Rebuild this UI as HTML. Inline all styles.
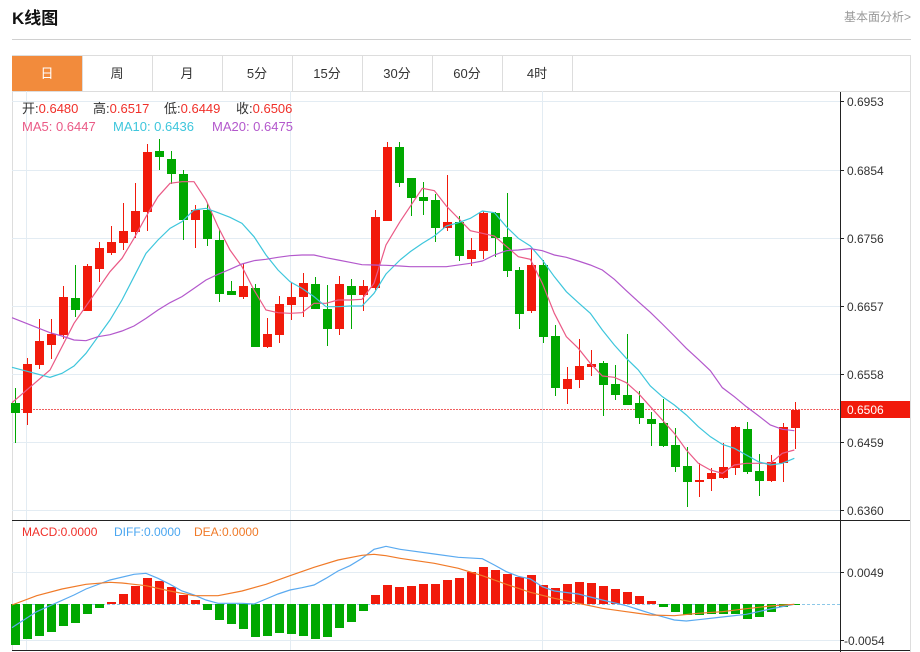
<!DOCTYPE html>
<html><head><meta charset="utf-8"><style>
body{margin:0;background:#fff;width:920px;height:652px;overflow:hidden;font-family:"Liberation Sans","Noto Sans CJK SC",sans-serif}
svg{position:absolute;left:0;top:0}
</style></head><body>
<svg width="920" height="652" xmlns="http://www.w3.org/2000/svg" font-family="Liberation Sans, Noto Sans CJK SC, sans-serif">
<text x="12" y="24" font-size="17" font-weight="bold" fill="#111">K线图</text>
<text x="911" y="21" font-size="12" fill="#999" text-anchor="end">基本面分析&gt;</text>
<line x1="12" y1="39.5" x2="911" y2="39.5" stroke="#d0d0d0"/>
<rect x="12.5" y="55.5" width="898" height="36" fill="none" stroke="#ddd"/>
<rect x="12" y="56" width="70" height="35" fill="#f28b3c"/>
<g stroke="#ddd"><line x1="82.5" y1="56" x2="82.5" y2="91"/><line x1="152.5" y1="56" x2="152.5" y2="91"/><line x1="222.5" y1="56" x2="222.5" y2="91"/><line x1="292.5" y1="56" x2="292.5" y2="91"/><line x1="362.5" y1="56" x2="362.5" y2="91"/><line x1="432.5" y1="56" x2="432.5" y2="91"/><line x1="502.5" y1="56" x2="502.5" y2="91"/><line x1="572.5" y1="56" x2="572.5" y2="91"/></g>
<g font-size="13" text-anchor="middle" fill="#333"><text x="47" y="78" fill="#fff">日</text><text x="117" y="78">周</text><text x="187" y="78">月</text><text x="257" y="78">5分</text><text x="327" y="78">15分</text><text x="397" y="78">30分</text><text x="467" y="78">60分</text><text x="537" y="78">4时</text></g>
<line x1="12.5" y1="91" x2="12.5" y2="650" stroke="#ddd"/>
<line x1="910.5" y1="91" x2="910.5" y2="652" stroke="#ddd"/>
<g stroke="#e3ecf3"><line x1="12" y1="101.5" x2="840" y2="101.5"/><line x1="12" y1="170.5" x2="840" y2="170.5"/><line x1="12" y1="238.5" x2="840" y2="238.5"/><line x1="12" y1="306.5" x2="840" y2="306.5"/><line x1="12" y1="374.5" x2="840" y2="374.5"/><line x1="12" y1="442.5" x2="840" y2="442.5"/><line x1="12" y1="510.5" x2="840" y2="510.5"/>
<line x1="26.5" y1="91" x2="26.5" y2="650"/><line x1="290.5" y1="91" x2="290.5" y2="650"/><line x1="542.5" y1="91" x2="542.5" y2="650"/>
<line x1="12" y1="572.5" x2="840" y2="572.5"/><line x1="12" y1="640.5" x2="840" y2="640.5"/></g>
<line x1="840.5" y1="92" x2="840.5" y2="652" stroke="#222"/>
<line x1="12" y1="520.5" x2="910" y2="520.5" stroke="#222"/>
<line x1="12" y1="650.5" x2="910" y2="650.5" stroke="#222"/>
<g font-size="12" fill="#333"><text x="847" y="106">0.6953</text><text x="847" y="175">0.6854</text><text x="847" y="243">0.6756</text><text x="847" y="311">0.6657</text><text x="847" y="379">0.6558</text><text x="847" y="447">0.6459</text><text x="847" y="515">0.6360</text><text x="847" y="577">0.0049</text><text x="844" y="645">-0.0054</text></g>
<g stroke="#222"><line x1="840" y1="101.5" x2="844" y2="101.5"/><line x1="840" y1="170.5" x2="844" y2="170.5"/><line x1="840" y1="238.5" x2="844" y2="238.5"/><line x1="840" y1="306.5" x2="844" y2="306.5"/><line x1="840" y1="374.5" x2="844" y2="374.5"/><line x1="840" y1="442.5" x2="844" y2="442.5"/><line x1="840" y1="510.5" x2="844" y2="510.5"/><line x1="840" y1="572.5" x2="844" y2="572.5"/><line x1="840" y1="640.5" x2="844" y2="640.5"/></g>
<line x1="12" y1="409.5" x2="840" y2="409.5" stroke="#f06060" stroke-dasharray="2,1"/>
<rect x="841" y="401" width="69" height="17" fill="#f11a0b"/>
<text x="847" y="414" font-size="12" fill="#fff">0.6506</text>
<g font-size="13"><text x="22" y="113" fill="#333">开:<tspan fill="#f0302a">0.6480</tspan></text><text x="93" y="113" fill="#333">高:<tspan fill="#f0302a">0.6517</tspan></text><text x="164" y="113" fill="#333">低:<tspan fill="#f0302a">0.6449</tspan></text><text x="236" y="113" fill="#333">收:<tspan fill="#f0302a">0.6506</tspan></text>
<text x="22" y="131" fill="#ea5a86">MA5: 0.6447</text><text x="113" y="131" fill="#3ec6dc">MA10: 0.6436</text><text x="212" y="131" fill="#b358cc">MA20: 0.6475</text></g>
<g font-size="12"><text x="22" y="536" fill="#f0302a">MACD:0.0000</text><text x="114" y="536" fill="#4aa6f0">DIFF:0.0000</text><text x="194" y="536" fill="#f07a28">DEA:0.0000</text></g>
<g stroke-width="1">
<path stroke="#00a800" d="M15.5 388V443M75.5 265V317M159.5 139V170M171.5 151V184M183.5 170V240M207.5 203V246M219.5 230V302M231.5 281V294M255.5 284V347M315.5 277V309M327.5 285V346M351.5 279V329M399.5 142V187M411.5 178V216M423.5 182V215M435.5 194V242M459.5 216V261M495.5 212V257M507.5 193V277M519.5 267V329M543.5 260V343M555.5 325V396M603.5 361V416M615.5 365V400M627.5 334V405M639.5 391V424M651.5 412V446M663.5 399V447M675.5 428V472M687.5 447V507M747.5 422V474M759.5 454V496"/>
<path stroke="#f11a0b" d="M27.5 358V425M39.5 319V369M51.5 319V359M63.5 286V339M87.5 264V311M99.5 242V282M111.5 226V255M123.5 203V250M135.5 183V238M147.5 144V231M195.5 205V248M243.5 263V299M267.5 318V348M279.5 296V343M291.5 283V320M303.5 273V317M339.5 276V335M363.5 280V311M375.5 210V290M387.5 142V221M447.5 175V231M471.5 238V266M483.5 211V259M531.5 249V313M567.5 367V404M579.5 339V388M591.5 350V376M699.5 463V497M711.5 468V491M723.5 443V479M735.5 426V475M771.5 455V482M783.5 423V482M795.5 402V449"/>
</g>
<g fill="#00a800">
<rect x="11" y="403" width="9" height="10"/><rect x="71" y="298" width="9" height="12"/><rect x="155" y="151" width="9" height="6"/><rect x="167" y="159" width="9" height="15"/><rect x="179" y="174" width="9" height="46"/><rect x="203" y="210" width="9" height="29"/><rect x="215" y="240" width="9" height="54"/><rect x="227" y="291" width="9" height="4"/><rect x="251" y="288" width="9" height="59"/><rect x="311" y="284" width="9" height="25"/><rect x="323" y="309" width="9" height="20"/><rect x="347" y="286" width="9" height="9"/><rect x="395" y="147" width="9" height="36"/><rect x="407" y="178" width="9" height="20"/><rect x="419" y="197" width="9" height="4"/><rect x="431" y="200" width="9" height="28"/><rect x="455" y="222" width="9" height="34"/><rect x="491" y="213" width="9" height="25"/><rect x="503" y="237" width="9" height="34"/><rect x="515" y="270" width="9" height="44"/><rect x="539" y="265" width="9" height="72"/><rect x="551" y="336" width="9" height="52"/><rect x="599" y="363" width="9" height="22"/><rect x="611" y="384" width="9" height="11"/><rect x="623" y="395" width="9" height="10"/><rect x="635" y="403" width="9" height="15"/><rect x="647" y="419" width="9" height="5"/><rect x="659" y="423" width="9" height="23"/><rect x="671" y="445" width="9" height="22"/><rect x="683" y="466" width="9" height="16"/><rect x="743" y="429" width="9" height="43"/><rect x="755" y="471" width="9" height="10"/>
</g>
<g fill="#f11a0b">
<rect x="23" y="364" width="9" height="49"/><rect x="35" y="341" width="9" height="24"/><rect x="47" y="334" width="9" height="11"/><rect x="59" y="297" width="9" height="38"/><rect x="83" y="266" width="9" height="45"/><rect x="95" y="248" width="9" height="21"/><rect x="107" y="242" width="9" height="11"/><rect x="119" y="231" width="9" height="12"/><rect x="131" y="211" width="9" height="21"/><rect x="143" y="152" width="9" height="60"/><rect x="191" y="210" width="9" height="10"/><rect x="239" y="286" width="9" height="11"/><rect x="263" y="334" width="9" height="13"/><rect x="275" y="304" width="9" height="31"/><rect x="287" y="297" width="9" height="8"/><rect x="299" y="283" width="9" height="14"/><rect x="335" y="284" width="9" height="45"/><rect x="359" y="286" width="9" height="9"/><rect x="371" y="217" width="9" height="71"/><rect x="383" y="147" width="9" height="74"/><rect x="443" y="222" width="9" height="6"/><rect x="467" y="250" width="9" height="9"/><rect x="479" y="213" width="9" height="38"/><rect x="527" y="265" width="9" height="46"/><rect x="563" y="379" width="9" height="10"/><rect x="575" y="366" width="9" height="14"/><rect x="587" y="364" width="9" height="3"/><rect x="695" y="480" width="9" height="2"/><rect x="707" y="473" width="9" height="6"/><rect x="719" y="467" width="9" height="11"/><rect x="731" y="427" width="9" height="41"/><rect x="767" y="462" width="9" height="19"/><rect x="779" y="427" width="9" height="36"/><rect x="791" y="410" width="9" height="18"/>
</g>
<g fill="none">
<g transform="translate(0,130) scale(0.33333)">
<polyline vector-effect="non-scaling-stroke" stroke-width="1.2" stroke="#ea5a86" points="36,818 150,720 222,580 330,425 366,385 402,325 438,260 474,200 510,160 546,155 582,155 618,210 654,290 690,360 726,410 762,480 798,540 834,548 870,550 906,548 942,520 978,520 1014,510 1050,510 1086,508 1122,460 1158,345 1200,275"/>
<polyline vector-effect="non-scaling-stroke" stroke-width="1.2" stroke="#3ec6dc" points="36,712 150,742 186,730 222,708 258,670 294,620 330,570 366,510 402,440 438,370 474,330 510,295 546,275 582,240 618,235 654,248 690,262 726,280 762,320 798,375 834,420 870,455 906,475 942,500 978,530 1014,530 1050,528 1086,528 1122,490 1158,432 1200,390"/>
<polyline vector-effect="non-scaling-stroke" stroke-width="1.2" stroke="#b358cc" points="36,563 150,608 186,618 222,630 258,632 294,620 330,614 366,603 402,588 438,565 474,540 510,518 546,500 582,475 618,450 654,433 690,418 726,402 762,392 798,388 834,382 870,377 906,375 942,375 978,383 1014,390 1050,397 1086,404 1122,405 1158,406 1200,408"/>
</g>
<g transform="translate(400,130) scale(0.33333)">
<polyline vector-effect="non-scaling-stroke" stroke-width="1.2" stroke="#ea5a86" points="0,275 67,175 103,182 139,228 211,302 247,310 283,318 355,380 391,388 427,460 463,550 499,620 535,655 571,700 607,738 643,742 679,758 715,790 751,830 787,870 823,910 859,960 895,1000 931,1020 967,1030 1003,1005 1039,1000 1075,1000 1111,1000 1147,970 1183,960"/>
<polyline vector-effect="non-scaling-stroke" stroke-width="1.2" stroke="#3ec6dc" points="0,390 31,365 67,340 103,318 139,288 175,278 211,265 247,243 283,248 319,290 355,325 391,348 427,390 463,440 499,485 535,518 571,550 607,600 643,645 679,685 715,720 751,768 787,800 823,825 859,855 895,890 931,920 967,943 1003,955 1039,975 1075,995 1111,1005 1147,1000 1183,985"/>
<polyline vector-effect="non-scaling-stroke" stroke-width="1.2" stroke="#b358cc" points="0,408 31,410 139,410 211,400 247,393 283,375 319,362 355,360 391,356 427,362 463,375 499,382 535,393 571,405 607,420 643,448 679,482 715,515 751,547 787,582 823,618 859,655 895,688 931,722 967,773 1003,800 1039,830 1075,857 1111,885 1147,898 1183,902"/>
</g>
</g>
<line x1="12" y1="604.5" x2="840" y2="604.5" stroke="#8cc8e8" stroke-dasharray="3,2"/>
<g fill="#00a800">
<rect x="11" y="604" width="9" height="41"/><rect x="23" y="604" width="9" height="35"/><rect x="35" y="604" width="9" height="32"/><rect x="47" y="604" width="9" height="28"/><rect x="59" y="604" width="9" height="22"/><rect x="71" y="604" width="9" height="19"/><rect x="83" y="604" width="9" height="10"/><rect x="95" y="604" width="9" height="4"/>
<rect x="203" y="604" width="9" height="6"/><rect x="215" y="604" width="9" height="16"/><rect x="227" y="604" width="9" height="20"/><rect x="239" y="604" width="9" height="25"/><rect x="251" y="604" width="9" height="33"/><rect x="263" y="604" width="9" height="32"/><rect x="275" y="604" width="9" height="29"/><rect x="287" y="604" width="9" height="30"/><rect x="299" y="604" width="9" height="32"/><rect x="311" y="604" width="9" height="35"/><rect x="323" y="604" width="9" height="33"/><rect x="335" y="604" width="9" height="24"/><rect x="347" y="604" width="9" height="18"/><rect x="359" y="604" width="9" height="7"/>
<rect x="659" y="604" width="9" height="3"/><rect x="671" y="604" width="9" height="8"/><rect x="683" y="604" width="9" height="11"/><rect x="695" y="604" width="9" height="11"/><rect x="707" y="604" width="9" height="10"/><rect x="719" y="604" width="9" height="10"/><rect x="731" y="604" width="9" height="10"/><rect x="743" y="604" width="9" height="15"/><rect x="755" y="604" width="9" height="13"/><rect x="767" y="604" width="9" height="8"/><rect x="779" y="604" width="9" height="3"/><rect x="791" y="604" width="9" height="1"/>
</g>
<g fill="#f11a0b">
<rect x="107" y="602" width="9" height="2"/><rect x="119" y="594" width="9" height="10"/><rect x="131" y="586" width="9" height="18"/><rect x="143" y="578" width="9" height="26"/><rect x="155" y="581" width="9" height="23"/><rect x="167" y="587" width="9" height="17"/><rect x="179" y="595" width="9" height="9"/><rect x="191" y="600" width="9" height="4"/>
<rect x="371" y="595" width="9" height="9"/><rect x="383" y="585" width="9" height="19"/><rect x="395" y="587" width="9" height="17"/><rect x="407" y="586" width="9" height="18"/><rect x="419" y="584" width="9" height="20"/><rect x="431" y="584" width="9" height="20"/><rect x="443" y="580" width="9" height="24"/><rect x="455" y="578" width="9" height="26"/><rect x="467" y="572" width="9" height="32"/><rect x="479" y="567" width="9" height="37"/><rect x="491" y="570" width="9" height="34"/><rect x="503" y="574" width="9" height="30"/><rect x="515" y="577" width="9" height="27"/><rect x="527" y="575" width="9" height="29"/><rect x="539" y="585" width="9" height="19"/><rect x="551" y="588" width="9" height="16"/><rect x="563" y="584" width="9" height="20"/><rect x="575" y="582" width="9" height="22"/><rect x="587" y="583" width="9" height="21"/><rect x="599" y="586" width="9" height="18"/><rect x="611" y="589" width="9" height="15"/><rect x="623" y="592" width="9" height="12"/><rect x="635" y="596" width="9" height="8"/><rect x="647" y="601" width="9" height="3"/>
</g>
<g fill="none">
<g transform="translate(0,515) scale(0.33333)">
<polyline vector-effect="non-scaling-stroke" stroke="#5aaaf0" stroke-width="1.2" points="36,338 110,290 222,240 258,222 330,195 402,178 438,175 474,190 510,208 546,228 582,240 618,255 654,265 690,265 726,265 762,267 798,252 834,237 870,225 906,218 942,210 978,190 1014,168 1050,152 1086,130 1122,103 1158,94 1200,103"/>
<polyline vector-effect="non-scaling-stroke" stroke="#f07a28" stroke-width="1.2" points="36,270 110,242 186,222 258,208 330,202 366,204 438,212 510,228 582,242 654,242 726,228 798,208 870,182 942,157 1014,135 1086,121 1122,118 1158,122 1200,130"/>
</g>
<g transform="translate(400,515) scale(0.33333)">
<polyline vector-effect="non-scaling-stroke" stroke="#5aaaf0" stroke-width="1.2" points="0,103 103,117 175,127 247,131 283,150 319,170 355,184 391,192 427,215 463,228 535,237 607,255 679,272 751,295 823,315 859,318 895,314 967,306 1039,298 1111,282 1183,268"/>
<polyline vector-effect="non-scaling-stroke" stroke="#f07a28" stroke-width="1.2" points="0,130 103,145 175,160 247,182 319,208 391,232 463,250 535,265 607,280 679,290 751,300 823,302 895,295 967,290 1039,281 1111,273 1183,268"/>
</g>
</g>
</svg>
</body></html>
